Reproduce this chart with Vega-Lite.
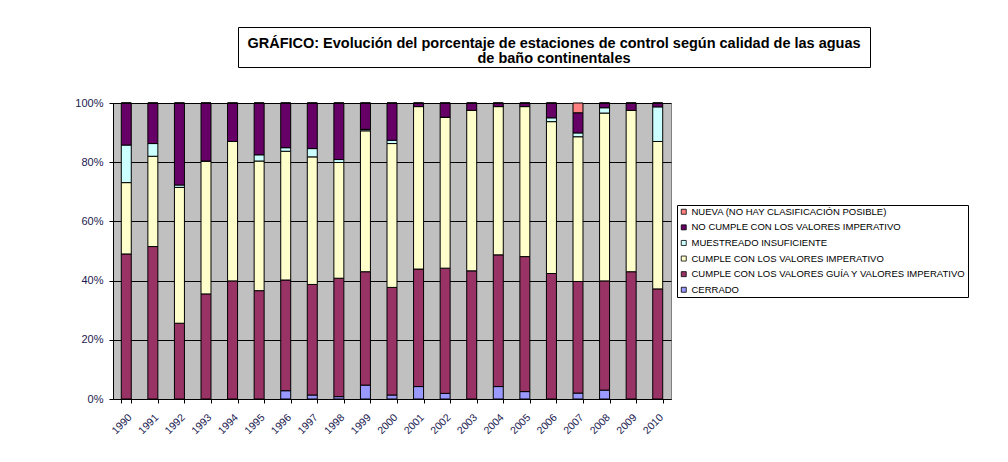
{
  "$schema": "https://vega.github.io/schema/vega-lite/v6.json",
  "padding": {"left": 74, "top": 26, "right": 10, "bottom": 10},
  "background": "white",
  "spacing": 28,
  "datasets": {
    "pct": [
      {"year": "1990", "c": 0, "g": 49.0, "i": 24.1, "m": 12.7, "n": 14.2, "nv": 0},
      {"year": "1991", "c": 0, "g": 51.5, "i": 30.5, "m": 4.3, "n": 13.7, "nv": 0},
      {"year": "1992", "c": 0, "g": 25.6, "i": 45.9, "m": 0.8, "n": 27.7, "nv": 0},
      {"year": "1993", "c": 0, "g": 35.5, "i": 44.9, "m": 0, "n": 19.6, "nv": 0},
      {"year": "1994", "c": 0, "g": 39.9, "i": 47.1, "m": 0, "n": 13.0, "nv": 0},
      {"year": "1995", "c": 0, "g": 36.6, "i": 43.8, "m": 2.1, "n": 17.5, "nv": 0},
      {"year": "1996", "c": 2.8, "g": 37.4, "i": 43.5, "m": 1.2, "n": 15.1, "nv": 0},
      {"year": "1997", "c": 1.35, "g": 37.35, "i": 43.1, "m": 2.8, "n": 15.4, "nv": 0},
      {"year": "1998", "c": 0.8, "g": 40.0, "i": 39.1, "m": 1.0, "n": 19.1, "nv": 0},
      {"year": "1999", "c": 4.7, "g": 38.3, "i": 47.6, "m": 0.5, "n": 8.9, "nv": 0},
      {"year": "2000", "c": 1.35, "g": 36.35, "i": 48.6, "m": 1.1, "n": 12.6, "nv": 0},
      {"year": "2001", "c": 4.2, "g": 39.7, "i": 54.9, "m": 0, "n": 1.2, "nv": 0},
      {"year": "2002", "c": 1.9, "g": 42.3, "i": 51.0, "m": 0, "n": 4.8, "nv": 0},
      {"year": "2003", "c": 0, "g": 43.3, "i": 54.2, "m": 0, "n": 2.5, "nv": 0},
      {"year": "2004", "c": 4.2, "g": 44.5, "i": 50.1, "m": 0, "n": 1.2, "nv": 0},
      {"year": "2005", "c": 2.5, "g": 45.6, "i": 50.7, "m": 0, "n": 1.2, "nv": 0},
      {"year": "2006", "c": 0, "g": 42.4, "i": 51.3, "m": 1.3, "n": 5.0, "nv": 0},
      {"year": "2007", "c": 2.0, "g": 37.7, "i": 48.9, "m": 1.3, "n": 6.8, "nv": 3.3},
      {"year": "2008", "c": 3.0, "g": 36.9, "i": 56.7, "m": 1.8, "n": 1.6, "nv": 0},
      {"year": "2009", "c": 0, "g": 43.0, "i": 54.5, "m": 0, "n": 2.5, "nv": 0},
      {"year": "2010", "c": 0, "g": 37.2, "i": 49.8, "m": 11.7, "n": 1.3, "nv": 0}
    ],
    "cats": [
      {"k": "c", "label": "CERRADO", "rank": 1},
      {"k": "g", "label": "CUMPLE CON LOS VALORES GUÍA Y VALORES IMPERATIVO", "rank": 2},
      {"k": "i", "label": "CUMPLE CON LOS VALORES IMPERATIVO", "rank": 3},
      {"k": "m", "label": "MUESTREADO INSUFICIENTE", "rank": 4},
      {"k": "n", "label": "NO CUMPLE CON LOS VALORES IMPERATIVO", "rank": 5},
      {"k": "nv", "label": "NUEVA (NO HAY CLASIFICACIÓN POSIBLE)", "rank": 6}
    ],
    "titleLines": [
      {"line": 1, "t": "GRÁFICO: Evolución del porcentaje de estaciones de control según calidad de las aguas"},
      {"line": 2, "t": "de baño continentales"}
    ]
  },
  "vconcat": [
    {
      "hconcat": [
        {
          "width": 124, "height": 40,
          "data": {"values": []},
          "mark": {"type": "text"},
          "encoding": {},
          "view": {"stroke": null, "fill": null}
        },
        {
          "width": 632, "height": 40,
          "data": {"name": "titleLines"},
          "mark": {"type": "text", "font": "Liberation Sans", "fontSize": 14.5, "fontWeight": "bold", "color": "black", "baseline": "alphabetic", "align": "center"},
          "encoding": {
            "y": {"field": "line", "type": "ordinal", "scale": {"range": [21.3, 35.5], "padding": 0}, "axis": null},
            "text": {"field": "t"}
          },
          "view": {"stroke": "black", "strokeWidth": 1, "fill": "white"}
        }
      ],
      "spacing": 0
    },
    {
      "width": 558,
      "height": 296,
      "data": {"name": "pct"},
      "transform": [
        {"fold": ["c", "g", "i", "m", "n", "nv"], "as": ["k", "v"]},
        {"lookup": "k", "from": {"data": {"name": "cats"}, "key": "k", "fields": ["label", "rank"]}}
      ],
      "mark": {"type": "bar", "stroke": "black", "strokeWidth": 1},
      "encoding": {
        "x": {
          "field": "year", "type": "ordinal",
          "scale": {"paddingInner": 0.624, "paddingOuter": 0.312},
          "axis": {
            "title": null, "labelAngle": -45, "labelFont": "Liberation Sans", "labelFontSize": 10.5,
            "labelColor": "#1a1a50", "domainColor": "black", "tickColor": "black", "tickBand": "extent",
            "tickSize": 4, "labelPadding": 9, "grid": false
          }
        },
        "y": {
          "field": "v", "type": "quantitative", "stack": "zero",
          "scale": {"domain": [0, 100], "nice": false},
          "axis": {
            "title": null, "values": [0, 20, 40, 60, 80, 100], "labelExpr": "datum.value + '%'",
            "labelFont": "Liberation Sans", "labelFontSize": 11, "labelColor": "#1a1a50",
            "domainColor": "black", "tickColor": "black", "tickSize": 4, "labelPadding": 6,
            "grid": true, "gridColor": "black", "gridOpacity": 1, "gridWidth": 1
          }
        },
        "color": {
          "field": "label", "type": "nominal",
          "scale": {
            "domain": ["NUEVA (NO HAY CLASIFICACIÓN POSIBLE)", "NO CUMPLE CON LOS VALORES IMPERATIVO", "MUESTREADO INSUFICIENTE", "CUMPLE CON LOS VALORES IMPERATIVO", "CUMPLE CON LOS VALORES GUÍA Y VALORES IMPERATIVO", "CERRADO"],
            "range": ["#FF8080", "#660066", "#CCFFFF", "#FFFFCC", "#993366", "#9999FF"]
          },
          "legend": {
            "title": null, "orient": "none", "legendX": 564, "legendY": 178,
            "strokeColor": "black", "fillColor": "white", "padding": 2,
            "labelFont": "Liberation Sans", "labelFontSize": 9.5, "labelColor": "black", "labelLimit": 400,
            "symbolType": "square", "symbolSize": 25, "symbolStrokeColor": "black", "symbolStrokeWidth": 0.8,
            "rowPadding": 4.6, "labelOffset": 3
          }
        },
        "order": {"field": "rank", "type": "quantitative", "sort": "ascending"}
      },
      "view": {"fill": "#C0C0C0", "stroke": "#808080"}
    }
  ]
}
